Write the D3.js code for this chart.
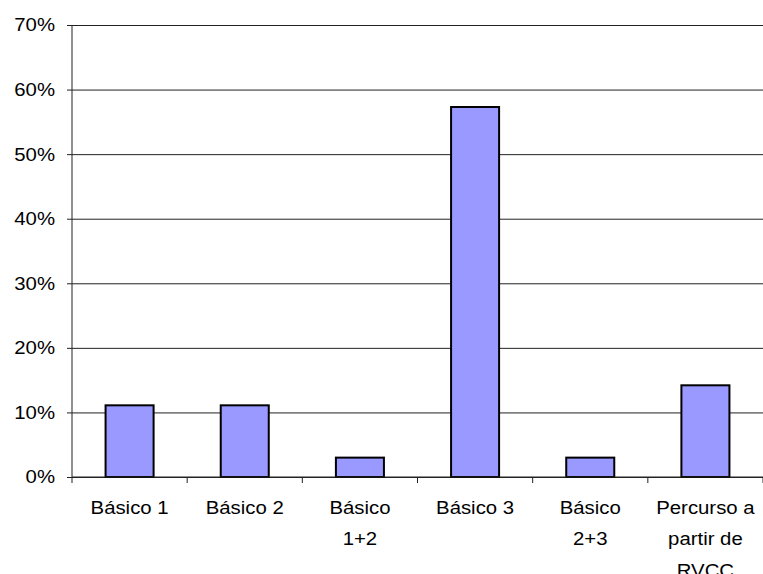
<!DOCTYPE html>
<html>
<head>
<meta charset="utf-8">
<title>Chart</title>
<style>
  body { margin: 0; background: #fff; }
  text { font-family: Arial, "Liberation Sans", sans-serif; fill: #000; }
</style>
</head>
<body>
<svg></svg>
<script src="https://d3js.org/d3.v7.min.js"></script>
<script>
var categories = ['Básico 1', 'Básico 2', 'Básico\n1+2', 'Básico 3', 'Básico\n2+3', 'Percurso a\npartir de\nRVCC'];
var values = [0.111, 0.111, 0.030, 0.573, 0.030, 0.142];
var yTicks = [0, 0.1, 0.2, 0.3, 0.4, 0.5, 0.6, 0.7];

var W = 763, H = 574,
    mLeft = 72, mRight = 763, mTop = 25, mBottom = 477,
    stretch = 1.1;

var svg = d3.select('svg').attr('width', W).attr('height', H);

var x = d3.scaleBand().domain(categories).range([mLeft, mRight])
    .paddingInner(0.583).paddingOuter(0.2915);
var y = d3.scaleLinear().domain([0, 0.7]).range([mBottom, mTop]);

// gridlines
svg.append('g')
    .attr('transform', `translate(${mLeft},0)`)
    .call(d3.axisLeft(y).tickValues(yTicks).tickSize(-(mRight - mLeft)).tickFormat(''))
    .call(g => g.select('.domain').remove())
    .call(g => g.selectAll('line').attr('stroke', '#222').attr('stroke-width', 1));

// y axis
var ya = svg.append('g')
    .attr('transform', `translate(${mLeft},0)`)
    .call(d3.axisLeft(y).tickValues(yTicks).tickSize(5).tickPadding(0).tickFormat(''));
ya.select('.domain').attr('stroke', '#222').attr('d', `M0,${mTop}V${mBottom}`);
ya.selectAll('line').attr('stroke', '#222');

svg.append('g').selectAll('text').data(yTicks).join('text')
    .attr('text-anchor', 'end')
    .attr('font-size', 18.5)
    .attr('dy', '0.35em')
    .attr('transform', d => `translate(55,${y(d)}) scale(${stretch},1)`)
    .text(d => Math.round(d * 100) + '%');

// bars
svg.append('g').selectAll('rect').data(values).join('rect')
    .attr('x', (d, i) => x(categories[i]))
    .attr('y', d => y(d))
    .attr('width', x.bandwidth())
    .attr('height', d => y(0) - y(d))
    .attr('fill', '#9999ff')
    .attr('stroke', '#000')
    .attr('stroke-width', 2);

// x axis line and ticks at category boundaries
svg.append('line')
    .attr('x1', mLeft).attr('x2', mRight).attr('y1', y(0)).attr('y2', y(0))
    .attr('stroke', '#222');
svg.append('g').selectAll('line').data(d3.range(categories.length + 1)).join('line')
    .attr('x1', i => mLeft + i * x.step()).attr('x2', i => mLeft + i * x.step())
    .attr('y1', y(0)).attr('y2', y(0) + 6)
    .attr('stroke', '#222');

// x labels
var lab = svg.append('g').selectAll('text').data(categories).join('text')
    .attr('text-anchor', 'middle')
    .attr('font-size', 18.5)
    .attr('transform', d => `translate(${x(d) + x.bandwidth() / 2},514) scale(${stretch},1)`);
lab.selectAll('tspan').data(d => d.split('\n')).join('tspan')
    .attr('x', 0)
    .attr('dy', (d, i) => i === 0 ? 0 : 31.5)
    .text(d => d);
</script>
</body>
</html>
